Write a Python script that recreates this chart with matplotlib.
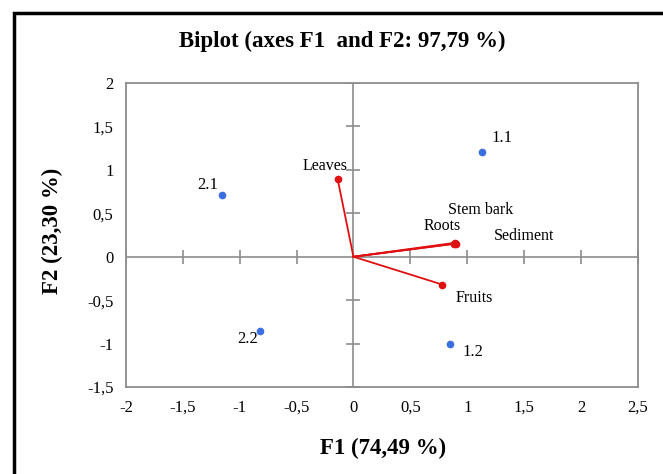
import matplotlib
matplotlib.use("Agg")
import matplotlib.pyplot as plt
from matplotlib.patches import Rectangle
from matplotlib.ticker import FuncFormatter
import numpy as np

plt.rcParams['font.family'] = ['Liberation Serif', 'DejaVu Serif']

# observations (sampling sites)
obs_names = ['1.1', '2.1', '2.2', '1.2']
obs_x = [1.13, -1.16, -0.82, 0.85]
obs_y = [1.21, 0.71, -0.85, -1.00]

# variables (plant parts / sediment)
var_names = ['Leaves', 'Stem bark', 'Roots', 'Sediment', 'Fruits']
var_x = [-0.14, 0.89, 0.88, 0.90, 0.78]
var_y = [0.90, 0.16, 0.15, 0.15, -0.32]

xticks = [-2, -1.5, -1, -0.5, 0, 0.5, 1, 1.5, 2, 2.5]
yticks = [-1.5, -1, -0.5, 0, 0.5, 1, 1.5, 2]

W, H = 663, 474
fig = plt.figure(figsize=(W / 100, H / 100), dpi=100)
ax = fig.add_axes([0.190, 0.1835, 0.772, 0.6414])

# outer frame (only top and left visible in the original crop)
fig.patches.append(Rectangle((14 / W, -0.1), 1.2, 1 - 13 / H + 0.1,
                             transform=fig.transFigure, fill=False,
                             edgecolor='black', linewidth=2.5))

grey = '#8c8c8c'
ax.axhline(0, color=grey, lw=1.2, zorder=1)
ax.axvline(0, color=grey, lw=1.2, zorder=1)
# cross ticks on the zero lines
ax.plot([t for t in xticks if t != 0], [0] * (len(xticks) - 1), ls='none',
        marker='|', ms=10, mew=1.2, color=grey, zorder=1)
ax.plot([0] * (len(yticks) - 1), [t for t in yticks if t != 0], ls='none',
        marker='_', ms=10, mew=1.2, color=grey, zorder=1)

# vectors
for x, y in zip(var_x, var_y):
    ax.plot([0, x], [0, y], color='#e01010', lw=1.3, zorder=2)
ax.plot(var_x, var_y, 'o', color='#e01010', ms=4.5, zorder=3)

var_off = {'Leaves': (-0.11, 0.15), 'Stem bark': (0.23, 0.38),
           'Roots': (-0.10, 0.20), 'Sediment': (0.60, 0.09),
           'Fruits': (0.28, -0.16)}
for n, x, y in zip(var_names, var_x, var_y):
    dx, dy = var_off[n]
    ax.text(x + dx, y + dy, n, ha='center', va='center', fontsize=11.5)

# observations
ax.plot(obs_x, obs_y, 'o', color='#3b6fe0', ms=4.5, zorder=3)
obs_off = {'1.1': (0.18, 0.16), '2.1': (-0.12, 0.12),
           '2.2': (-0.11, -0.10), '1.2': (0.20, -0.10)}
for n, x, y in zip(obs_names, obs_x, obs_y):
    dx, dy = obs_off[n]
    ax.text(x + dx, y + dy, n, ha='center', va='center', fontsize=12)

ax.set_xlim(-2, 2.5)
ax.set_ylim(-1.5, 2)
ax.set_xticks(xticks)
ax.set_yticks(yticks)
fmt = FuncFormatter(lambda v, p: ('%g' % v).replace('.', ','))
ax.xaxis.set_major_formatter(fmt)
ax.yaxis.set_major_formatter(fmt)
ax.tick_params(length=0, labelsize=12, pad=9)
for s in ax.spines.values():
    s.set_color(grey)
    s.set_linewidth(1.3)

fig.text(383 / W, 1 - 448 / H, 'F1 (74,49 %)', ha='center', va='center',
         fontsize=16.5, fontweight='bold')
fig.text(52 / W, 1 - 231 / H, 'F2 (23,30 %)', ha='center', va='center',
         rotation=90, fontsize=16.5, fontweight='bold')
fig.text(342 / W, 1 - 41 / H, 'Biplot (axes F1  and F2: 97,79 %)',
         ha='center', va='center', fontsize=16.5, fontweight='bold')

fig.savefig('out.png', dpi=100)
